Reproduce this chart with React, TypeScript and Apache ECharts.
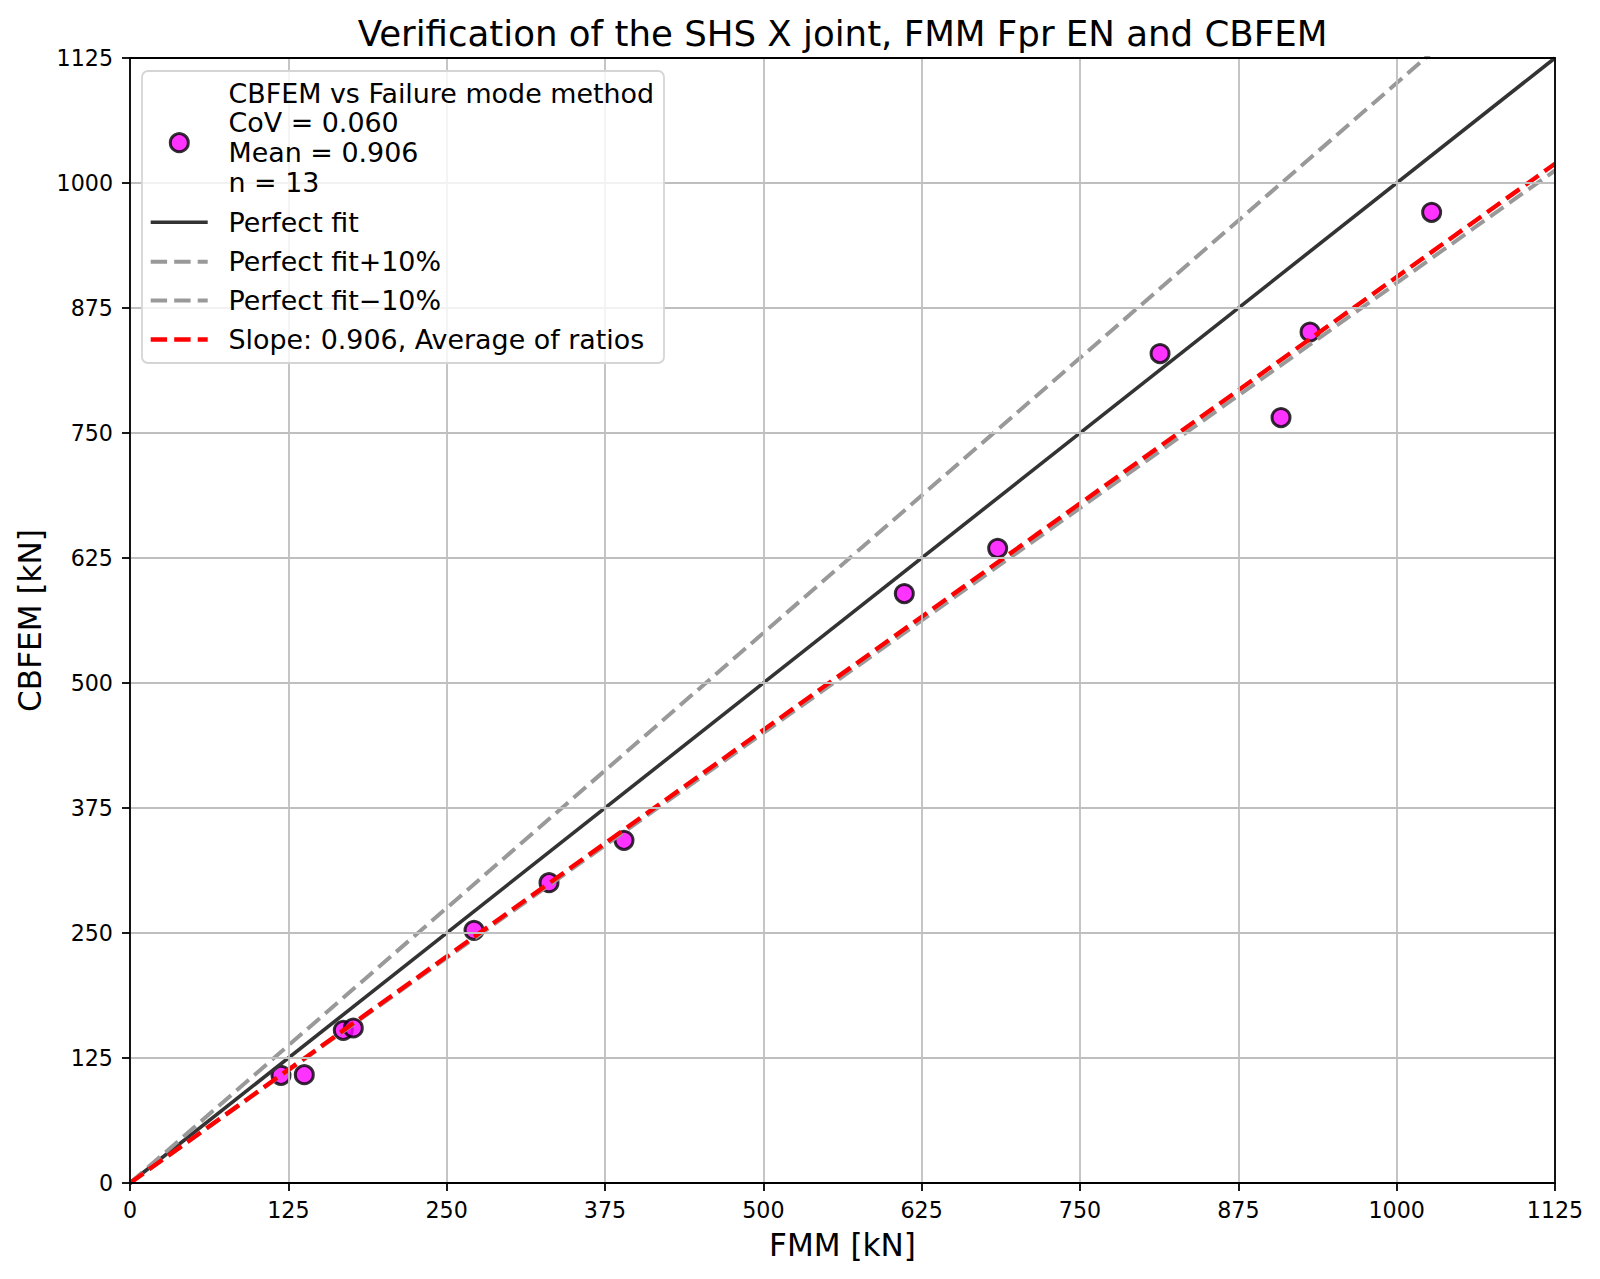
import React, { useEffect, useRef } from "react";
import * as echarts from "echarts";

// ---- data ----
const fmmValues = [119.2, 137.6, 168.4, 176.3, 271.6, 330.8, 390.0, 611.3, 685.0, 813.2, 908.7, 931.6, 1027.6];
const cbfemValues = [107.7, 108.3, 152.7, 155.0, 252.7, 300.3, 342.7, 589.4, 634.7, 829.4, 765.4, 851.0, 970.7];
const axisMin = 0;
const axisMax = 1125;
const axisStep = 125;
const fitSlope = 0.906;
const tolerance = 0.1;

const titleText = "Verification of the SHS X joint, FMM Fpr EN and CBFEM";
const xAxisName = "FMM [kN]";
const yAxisName = "CBFEM [kN]";
const scatterLegendLines = ["CBFEM vs Failure mode method", "CoV = 0.060", "Mean = 0.906", "n = 13"];
const lineLegendNames = ["Perfect fit", "Perfect fit+10%", "Perfect fit\u221210%", "Slope: 0.906, Average of ratios"];

const FONT = "DejaVu Sans";

export default function App() {
  const ref = useRef<HTMLDivElement>(null);

  useEffect(() => {
    document.body.style.margin = "0";
    if (!ref.current) return;
    const chart = echarts.init(ref.current, undefined, { renderer: "svg" });

    const points = fmmValues.map((x, i) => [x, cbfemValues[i]]);
    const perfect = [[axisMin, axisMin], [axisMax, axisMax]];
    const plus = [[axisMin, axisMin], [axisMax, axisMax * (1 + tolerance)]];
    const minus = [[axisMin, axisMin], [axisMax, axisMax * (1 - tolerance)]];
    const slopeLine = [[axisMin, axisMin], [axisMax, axisMax * fitSlope]];

    const dash = [16.4, 7.1];
    const lineStyles = [
      { color: "#333333", width: 3.6, type: "solid" as any },
      { color: "#999999", width: 4.0, type: dash as any },
      { color: "#999999", width: 4.0, type: dash as any },
      { color: "#ff0000", width: 4.4, type: dash as any },
    ];
    const lineData = [perfect, plus, minus, slopeLine];

    const markerFill = "rgba(255,0,255,0.8)";
    const markerEdge = "rgba(0,0,0,0.8)";

    // legend built as graphic
    const lgX = 142, lgY = 71, lgW = 522, lgH = 292;
    const textX = 228.5;
    const handleX0 = 150.7, handleX1 = 207.7;
    const scatterLineYs = [93.3, 122.3, 152.3, 182.7];
    const lineItemYs = [222.3, 261.7, 300.5, 339.5];
    const legendFont = 26.9;

    const graphic: any[] = [
      {
        type: "rect",
        z: 100,
        shape: { x: lgX, y: lgY, width: lgW, height: lgH, r: 6 },
        style: { fill: "rgba(255,255,255,0.8)", stroke: "#d5d5d5", lineWidth: 1.8 },
      },
      {
        type: "circle",
        z: 101,
        shape: { cx: 179.3, cy: 142.7, r: 9 },
        style: { fill: markerFill, stroke: markerEdge, lineWidth: 3 },
      },
    ];
    scatterLegendLines.forEach((t, i) => {
      graphic.push({
        type: "text",
        z: 101,
        x: textX,
        y: scatterLineYs[i],
        style: {
          text: t,
          fontSize: legendFont,
          fontFamily: FONT,
          fill: "#000",
          textAlign: "left",
          textVerticalAlign: "middle",
        },
      });
    });
    lineLegendNames.forEach((t, i) => {
      const ls = lineStyles[i];
      graphic.push({
        type: "line",
        z: 101,
        shape: { x1: handleX0, y1: lineItemYs[i], x2: handleX1, y2: lineItemYs[i] },
        style: {
          stroke: ls.color,
          lineWidth: ls.width,
          lineDash: ls.type === "solid" ? null : dash,
        },
      });
      graphic.push({
        type: "text",
        z: 101,
        x: textX,
        y: lineItemYs[i],
        style: {
          text: t,
          fontSize: legendFont,
          fontFamily: FONT,
          fill: "#000",
          textAlign: "left",
          textVerticalAlign: "middle",
        },
      });
    });

    const axisCommon = {
      type: "value" as const,
      min: axisMin,
      max: axisMax,
      interval: axisStep,
      nameLocation: "middle" as const,
      nameTextStyle: { fontSize: 31.1, fontFamily: FONT, color: "#000" },
      axisLine: { show: true, onZero: false, lineStyle: { color: "#000", width: 1.8 } },
      axisTick: { show: true, inside: false, length: 8, lineStyle: { color: "#000", width: 1.8 } },
      splitLine: { show: true, lineStyle: { color: "#bfbfbf", width: 1.8 } },
    };
    const spineAxis = {
      type: "value" as const,
      min: axisMin,
      max: axisMax,
      interval: axisStep,
      axisLine: { show: true, onZero: false, lineStyle: { color: "#000", width: 1.8 } },
      axisTick: { show: false },
      axisLabel: { show: false },
      splitLine: { show: false },
      z: 10,
    };
    const plainLabel = (v: number) => String(v);

    chart.setOption({
      animation: false,
      backgroundColor: "#ffffff",
      textStyle: { fontFamily: FONT },
      title: {
        text: titleText,
        left: 842.5,
        top: 15,
        padding: 0,
        textAlign: "center",
        textStyle: { fontSize: 35.6, fontWeight: "normal", fontFamily: FONT, color: "#000" },
      },
      grid: {
        left: 130,
        right: 45,
        top: 58,
        bottom: 96,
        containLabel: false,
      },
      xAxis: [
        {
          ...axisCommon,
          name: xAxisName,
          nameGap: 46,
          z: 10,
          axisLabel: { fontSize: 22.2, fontFamily: FONT, color: "#000", margin: 16, formatter: plainLabel },
        },
        { ...spineAxis, position: "top" },
      ],
      yAxis: [
        {
          ...axisCommon,
          name: yAxisName,
          nameGap: 80,
          z: 10,
          axisLabel: { fontSize: 22.2, fontFamily: FONT, color: "#000", margin: 17, formatter: plainLabel },
        },
        { ...spineAxis, position: "right" },
      ],
      series: [
        {
          type: "scatter",
          z: 1,
          data: points,
          symbol: "circle",
          symbolSize: 18,
          itemStyle: { color: markerFill, borderColor: markerEdge, borderWidth: 3, opacity: 1 },
          emphasis: { disabled: true },
          silent: true,
        },
        ...lineData.map((d, i) => ({
          type: "line",
          z: 2 + i,
          data: d,
          symbol: "none",
          clip: true,
          lineStyle: lineStyles[i],
          emphasis: { disabled: true },
          silent: true,
        })),
      ],
      graphic,
    });

    return () => chart.dispose();
  }, []);

  return <div ref={ref} style={{ width: "1600px", height: "1279px" }} />;
}
